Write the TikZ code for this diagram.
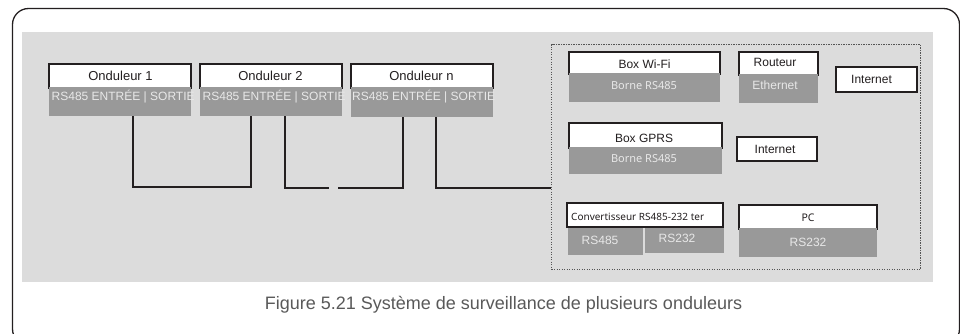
\documentclass[tikz,border=0pt]{standalone}
\usepackage{fontspec}
\setmainfont{Liberation Sans}
\newfontfamily\hum{Noto Sans}
\definecolor{dk}{HTML}{231F20}
\definecolor{panel}{HTML}{DCDCDC}
\definecolor{gr}{HTML}{999999}
\definecolor{lt}{HTML}{E8E8E8}
\definecolor{capc}{HTML}{595959}
\definecolor{dotc}{HTML}{555555}
\begin{document}
\begin{tikzpicture}[x=1pt,y=-1pt,
  wbox/.style 2 args={draw=dk, line width=1.8pt, fill=white, inner sep=0pt, outer sep=0pt, anchor=north west, minimum width=#1, minimum height=#2},
  gbox/.style 2 args={fill=gr, inner sep=0pt, outer sep=0pt, anchor=north west, minimum width=#1, minimum height=#2},
  lbl/.style={font=\fontsize{12}{14}\selectfont, text=dk, inner sep=0pt, anchor=base},
  olbl/.style={font=\fontsize{13}{15}\selectfont, text=dk, inner sep=0pt, anchor=base},
  glbl/.style={font=\fontsize{12}{14}\selectfont, text=lt, inner sep=0pt, anchor=base},
  hlbl/.style={font=\hum\fontsize{11}{13}\selectfont, text=lt, inner sep=0pt, anchor=base},
  wire/.style={draw=dk, line width=1.4pt},
]
\useasboundingbox (0,0) rectangle (960,333);
\clip (0,0) rectangle (960,333);
% outer frame
\draw[dk, line width=1.3pt, rounded corners=16pt] (12.5,8.5) rectangle (959.5,345);
% panel
\fill[panel] (22,32) rectangle (933,282);
% group frame
\node[draw=dotc, line width=1pt, dash pattern=on 1.3pt off 1.2pt, inner sep=0pt, anchor=north west, minimum width=369pt, minimum height=225pt] (grp) at (551,44) {};

% inverters
\node[wbox={142pt}{24pt}] (o1) at (49,64) {};
\node[gbox={142pt}{29pt}] (g1) at (49,87) {};
\node[olbl] (o1t) at (120.5,80) {Onduleur 1};
\node[glbl, anchor=base west] (g1t) at (51.5,100) {RS485 ENTRÉE | SORTIE};

\node[wbox={142pt}{24pt}] (o2) at (200,64) {};
\node[gbox={142pt}{29pt}] (g2) at (200,87) {};
\node[olbl] (o2t) at (270.5,80) {Onduleur 2};
\node[glbl, anchor=base west] (g2t) at (202.5,100) {RS485 ENTRÉE | SORTIE};

\node[wbox={142pt}{24pt}] (on) at (351,64) {};
\node[gbox={142pt}{30pt}] (gn) at (351,87) {};
\node[olbl] (ont) at (421.5,80) {Onduleur n};
\node[glbl, anchor=base west] (gnt) at (352,100) {RS485 ENTRÉE | SORTIE};

% ports
\coordinate (p1) at (133,116);
\coordinate (q2) at (251,116);
\coordinate (p2) at (285,116);
\coordinate (gapa) at (329,188);
\coordinate (gapb) at (338,188);
\coordinate (qn) at (403,117);
\coordinate (pn) at (436,117);
\draw[wire] (p1) |- (q2 |- 0,187) -- (q2);
\draw[wire] (p2) |- (gapa);
\draw[wire] (gapb) -| (qn);
\draw[wire] (pn) |- (grp.west |- 0,188);

% Box Wi-Fi
\node[wbox={151pt}{22pt}] (wifi) at (569,52) {};
\node[gbox={151pt}{29pt}] (wifig) at (569,73) {};
\node[lbl] (wifit) at (644.5,68.5) {Box Wi-Fi};
\node[hlbl] (wifib) at (644,89.3) {Borne RS485};

% Routeur
\node[wbox={79pt}{23pt}] (rt) at (739,52) {};
\node[gbox={79pt}{29pt}] (rtg) at (739,74) {};
\node[lbl] (rtt) at (775,66.5) {Routeur};
\node[glbl] (rte) at (775,89) {Ethernet};

% Internet top
\node[wbox={81pt}{25pt}] (int1) at (836,67) {};
\node[lbl] (int1t) at (871.5,83.3) {Internet};

% Box GPRS
\node[wbox={153pt}{25pt}] (gprs) at (569,123) {};
\node[gbox={153pt}{27pt}] (gprsg) at (569,147) {};
\node[lbl] (gprst) at (644,142.7) {Box GPRS};
\node[hlbl] (gprsb) at (644,162.7) {Borne RS485};

% Internet mid
\node[wbox={80pt}{24pt}] (int2) at (737,137) {};
\node[lbl] (int2t) at (775,153) {Internet};

% Convertisseur
\node[gbox={75pt}{28pt}] (cvl) at (568,227) {};
\node[gbox={79pt}{26pt}] (cvr) at (644.5,227) {};
\node[wbox={156pt}{24pt}] (cv) at (567,203) {};
\node[font=\hum\fontsize{10}{12}\selectfont, text=dk, inner sep=0pt, anchor=base west] (cvt) at (571,220) {Convertisseur RS485-232 ter};
\node[glbl] (cvlt) at (600,244) {RS485};
\node[glbl] (cvrt) at (677,242.3) {RS232};

% PC
\node[wbox={138pt}{24pt}] (pc) at (739,205) {};
\node[gbox={138pt}{29pt}] (pcg) at (739,228) {};
\node[font=\hum\fontsize{10.5}{12}\selectfont, text=dk, inner sep=0pt, anchor=base] (pct) at (808,221.7) {PC};
\node[glbl] (pcr) at (808,246.7) {RS232};

% caption
\node[font=\fontsize{18}{20}\selectfont, text=capc, inner sep=0pt, anchor=base] (cap) at (503.5,309) {Figure 5.21 Système de surveillance de plusieurs onduleurs};
\end{tikzpicture}
\end{document}
